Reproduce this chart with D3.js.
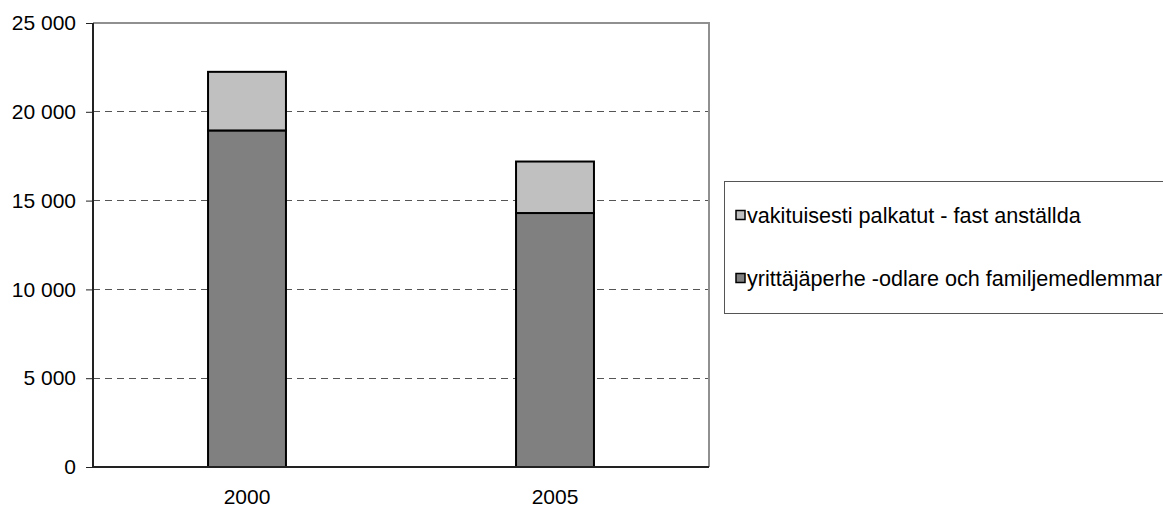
<!DOCTYPE html>
<html>
<head>
<meta charset="utf-8">
<script src="https://cdn.jsdelivr.net/npm/d3@7"></script>
<style>
  html, body { margin: 0; padding: 0; background: #fff; }
  svg { display: block; font-family: "Liberation Sans", Arial, sans-serif; }
</style>
</head>
<body>
<svg id="chart" width="1163" height="507"></svg>
<script>
const categories = ["2000", "2005"];
const seriesNames = ["yrittäjäperhe -odlare och familjemedlemmar", "vakituisesti palkatut - fast anställda"];
const familyValues = [18950, 14300];
const employedValues = [3300, 2900];
const yTicks = [0, 5000, 10000, 15000, 20000, 25000];
const seriesColors = ["#808080", "#c0c0c0"];

const svg = d3.select("#chart");
const plot = { left: 93, right: 709, top: 23, bottom: 467 };
const FS = 21;
const LFS = 21.6;

const x = d3.scaleBand().domain(categories).range([plot.left, plot.right]).padding(0);
const y = d3.scaleLinear().domain([0, 25000]).range([plot.bottom, plot.top]);
const barW = x.bandwidth() * 0.253;

const fmt = v => d3.format(",")(v).replace(/,/g, " ");

// gridlines
svg.append("g").selectAll("line").data(yTicks.filter(t => t > 0 && t < 25000)).join("line")
  .attr("x1", plot.left).attr("x2", plot.right)
  .attr("y1", d => y(d)).attr("y2", d => y(d))
  .attr("stroke", "#555").attr("stroke-width", 1).attr("stroke-dasharray", "7,5")
  .attr("shape-rendering", "crispEdges");

// plot frame (top and right grey)
svg.append("path")
  .attr("d", `M${plot.left},${plot.top}H${plot.right}V${plot.bottom}`)
  .attr("fill", "none").attr("stroke", "#909090").attr("stroke-width", 2);

// stacked data
const rows = categories.map((c, i) => ({ cat: c, family: familyValues[i], employed: employedValues[i] }));
const stack = d3.stack().keys(["family", "employed"])(rows);

svg.append("g").selectAll("g").data(stack).join("g")
  .attr("fill", (d, i) => seriesColors[i])
  .selectAll("rect").data(d => d).join("rect")
  .attr("x", d => x(d.data.cat) + x.bandwidth() / 2 - barW / 2)
  .attr("width", barW)
  .attr("y", d => y(d[1]))
  .attr("height", d => y(d[0]) - y(d[1]))
  .attr("stroke", "#000").attr("stroke-width", 2);

// y axis
const yAxis = d3.axisLeft(y).tickValues(yTicks).tickFormat(fmt).tickSize(7).tickPadding(10);
const yg = svg.append("g").attr("transform", `translate(${plot.left},0)`).call(yAxis);
yg.select(".domain").attr("stroke", "#222").attr("stroke-width", 2).attr("d", `M0,${plot.top}V${plot.bottom}`);
yg.selectAll(".tick line").attr("stroke", "#222");
yg.selectAll("text").attr("font-size", FS).attr("fill", "#000").attr("font-family", "Liberation Sans, Arial, sans-serif");

// x axis
const xAxis = d3.axisBottom(x).tickSize(0).tickPadding(22);
const xg = svg.append("g").attr("transform", `translate(0,${plot.bottom})`).call(xAxis);
xg.select(".domain").attr("stroke", "#222").attr("stroke-width", 2).attr("d", `M${plot.left},0H${plot.right}`);
xg.selectAll("text").attr("font-size", FS).attr("fill", "#000").attr("font-family", "Liberation Sans, Arial, sans-serif");

// legend
const legend = svg.append("g");
legend.append("rect").attr("x", 724).attr("y", 181).attr("width", 460).attr("height", 132)
  .attr("fill", "#fff").attr("stroke", "#555").attr("stroke-width", 1).attr("shape-rendering", "crispEdges");
const legendItems = [
  { name: seriesNames[1], color: seriesColors[1], cy: 215 },
  { name: seriesNames[0], color: seriesColors[0], cy: 278 }
];
const li = legend.selectAll("g.item").data(legendItems).join("g").attr("class", "item");
li.append("rect").attr("x", 736).attr("y", d => d.cy - 4.5).attr("width", 9).attr("height", 9)
  .attr("fill", d => d.color).attr("stroke", "#000").attr("stroke-width", 1.5);
li.append("text").attr("x", 747).attr("y", d => d.cy).attr("dy", "0.35em")
  .attr("font-size", LFS).attr("fill", "#000").text(d => d.name);
</script>
</body>
</html>
